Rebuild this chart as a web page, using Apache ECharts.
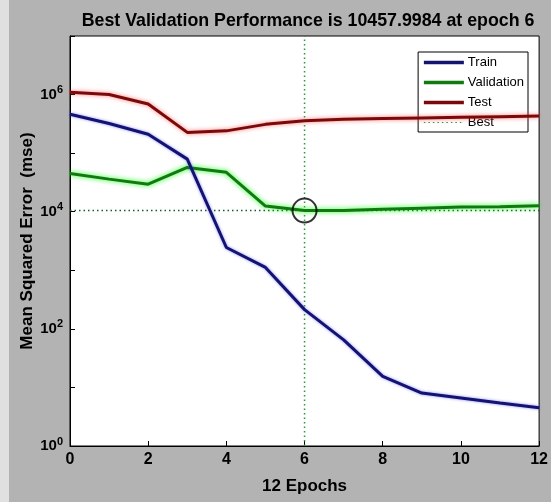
<!DOCTYPE html>
<html>
<head>
<meta charset="utf-8">
<script src="https://cdn.jsdelivr.net/npm/echarts@6/dist/echarts.min.js"></script>
<style>
html,body{margin:0;padding:0;background:#b3b3b3;}
#c{width:551px;height:502px;}
</style>
</head>
<body>
<div id="c"></div>
<script>
const epochs = [0,1,2,3,4,5,6,7,8,9,10,11,12];
const trainMse = [4.6e5, 3.2e5, 2.1e5, 7.9e4, 2450, 1120, 213, 65, 15.4, 8.0, 6.6, 5.4, 4.5];
const validationMse = [4.5e4, 3.6e4, 2.95e4, 5.7e4, 4.7e4, 1.25e4, 10457.9984, 1.05e4, 1.1e4, 1.15e4, 1.2e4, 1.22e4, 1.26e4];
const testMse = [1.1e6, 1.0e6, 6.9e5, 2.26e5, 2.4e5, 3.1e5, 3.57e5, 3.8e5, 3.9e5, 4.0e5, 4.1e5, 4.2e5, 4.3e5];
const bestEpoch = 6;
const bestValue = 10457.9984;
const yMin = 1, yMax = 1e7;
const xTicks = [0,2,4,6,8,10,12];

const pair = (arr) => epochs.map((e,i) => [e, arr[i]]);
const chart = echarts.init(document.getElementById('c'));
const font = 'Liberation Sans, Arial, sans-serif';

chart.setOption({
  animation: false,
  backgroundColor: '#b3b3b3',
  graphic: [
    {type:'rect', shape:{x:0,y:0,width:9,height:502}, style:{fill:'#e0e0e0'}, z:-1}
  ],
  title: {
    text: 'Best Validation Performance is 10457.9984 at epoch 6',
    left: 303, top: 7, textAlign: 'center',
    textStyle: {fontFamily: font, fontWeight: 'bold', fontSize: 17.8, color: '#000'}
  },
  grid: {
    left: 70, right: 8, top: 36, bottom: 56,
    show: true, backgroundColor: '#fff', borderColor: '#000', borderWidth: 1
  },
  legend: {
    orient: 'vertical', right: 23, top: 52,
    backgroundColor: '#fff', borderColor: '#000', borderWidth: 1,
    padding: [4, 4, 3, 4], itemGap: 7, itemWidth: 40, itemHeight: 14, itemStyle: {opacity: 0},
    textStyle: {fontFamily: font, fontSize: 13, color: '#000', padding:[0,0,0,-1]},
    data: [
      {name: 'Train', lineStyle: {width: 3.5}},
      {name: 'Validation', lineStyle: {width: 3.5}},
      {name: 'Test', lineStyle: {width: 3.5}},
      {name: 'Best', lineStyle: {width: 1.2}}
    ]
  },
  xAxis: {
    type: 'value', min: 0, max: 12, interval: 2,
    name: '12 Epochs', nameLocation: 'middle', nameGap: 32, nameMoveOverlap: false,
    nameTextStyle: {fontFamily: font, fontWeight: 'bold', fontSize: 17, color: '#000'},
    axisLine: {lineStyle: {color: '#000'}},
    axisTick: {inside: true, length: 5, lineStyle: {color: '#000'}},
    axisLabel: {fontFamily: font, fontWeight: 'bold', fontSize: 16, color: '#000', margin: 6,
      formatter: (v) => xTicks.includes(v) ? String(v) : ''},
    splitLine: {show: false}
  },
  yAxis: {
    type: 'log', logBase: 10, min: yMin, max: yMax, splitNumber: 7,
    name: 'Mean Squared Error  (mse)', nameLocation: 'middle', nameGap: 34, nameMoveOverlap: false,
    nameTextStyle: {fontFamily: font, fontWeight: 'bold', fontSize: 17, color: '#000'},
    axisLine: {lineStyle: {color: '#000'}},
    axisTick: {inside: true, length: 5, lineStyle: {color: '#000'}},
    axisLabel: {
      margin: 7, color: '#000',
      formatter: (v) => {
        const e = Math.round(Math.log10(v));
        if (e % 2 !== 0 || e > 6) return '';
        return '{b|10}{s|' + e + '}';
      },
      rich: {
        b: {fontFamily: font, fontSize: 15, color: '#000', fontWeight: 'bold'},
        s: {fontFamily: font, fontSize: 11, color: '#000', fontWeight: 'bold', padding: [0,0,9,0]}
      }
    },
    splitLine: {show: false}
  },
  series: [
    {name: 'Train', type: 'line', data: pair(trainMse), symbol: 'none',
     lineStyle: {color: '#141470', width: 3, shadowColor: 'rgba(60,60,255,0.6)', shadowBlur: 3}, itemStyle: {color: '#141470'}, z: 5},
    {name: 'Validation', type: 'line', data: pair(validationMse), symbol: 'none',
     lineStyle: {color: '#107a10', width: 3, shadowColor: 'rgba(0,255,0,0.9)', shadowBlur: 5}, itemStyle: {color: '#10a010'}, z: 4},
    {name: 'Test', type: 'line', data: pair(testMse), symbol: 'none',
     lineStyle: {color: '#7a0a0a', width: 3, shadowColor: 'rgba(255,60,60,0.7)', shadowBlur: 4}, itemStyle: {color: '#8b0000'}, z: 4},
    {name: 'Best', type: 'line', data: [[bestEpoch, yMin], [bestEpoch, yMax]], symbol: 'none',
     lineStyle: {color: '#2a9a3a', width: 1.5, type: [1.5, 3]}, itemStyle: {color: '#2a9a3a'}, z: 3},
    {name: 'Best', type: 'line', data: [[0, bestValue], [12, bestValue]], symbol: 'none',
     lineStyle: {color: '#1a5a2a', width: 1.5, type: [1.5, 3]}, itemStyle: {color: '#2a9a3a'}, z: 3},
    {name: 'BestPoint', type: 'scatter', data: [[bestEpoch, bestValue]], symbol: 'circle', symbolSize: 24,
     itemStyle: {color: 'rgba(0,0,0,0)', borderColor: '#000', borderWidth: 2}, z: 6, silent: true}
  ]
});
</script>
</body>
</html>
